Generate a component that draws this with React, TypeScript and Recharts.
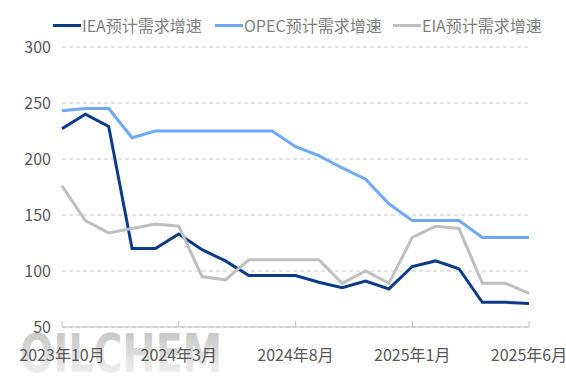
import React from "react";
import { LineChart, Line, XAxis, YAxis, CartesianGrid } from "recharts";

const months = [
  "2023年10月", "2023年11月", "2023年12月", "2024年1月", "2024年2月", "2024年3月",
  "2024年4月", "2024年5月", "2024年6月", "2024年7月", "2024年8月", "2024年9月",
  "2024年10月", "2024年11月", "2024年12月", "2025年1月", "2025年2月", "2025年3月",
  "2025年4月", "2025年5月", "2025年6月",
];
const ieaValues = [227, 240, 229, 120, 120, 133, 119, 109, 96, 96, 96, 90, 85, 91, 84, 104, 109, 102, 72, 72, 71];
const opecValues = [243, 245, 245, 219, 225, 225, 225, 225, 225, 225, 211, 203, 192, 182, 160, 145, 145, 145, 130, 130, 130];
const eiaValues = [176, 145, 134, 138, 142, 140, 95, 92, 110, 110, 110, 110, 89, 100, 89, 130, 140, 138, 89, 89, 80];
const yTicks = [50, 100, 150, 200, 250, 300];

const seriesNames = ["IEA预计需求增速", "OPEC预计需求增速", "EIA预计需求增速"];
const seriesColors = ["#0B3B8A", "#6EA8F7", "#BFBFBF"];

const data = months.map((m, i) => ({
  month: m,
  iea: ieaValues[i],
  opec: opecValues[i],
  eia: eiaValues[i],
}));

const FONT = '"Noto Sans CJK SC", "Noto Sans", sans-serif';

const LegendBlock = () => (
  <div style={{ position: "absolute", left: 0, top: 10, width: 566, height: 30 }}>
    {seriesNames.map((n, i) => {
      const lefts = [53, 215, 393];
      return (
        <div
          key={n}
          style={{
            position: "absolute",
            left: lefts[i],
            top: 0,
            display: "flex",
            alignItems: "center",
            height: 30,
            fontFamily: FONT,
            fontSize: 16,
            color: "#7F7F7F",
            whiteSpace: "nowrap",
          }}
        >
          <span style={{ display: "inline-block", width: 28, height: 3, background: seriesColors[i], marginRight: 1 }} />
          <span>{n}</span>
        </div>
      );
    })}
  </div>
);

const XTick = (props: any) => {
  const { x, payload } = props;
  return (
    <g>
      <line x1={x} x2={x} y1={327} y2={321} stroke="#BFBFBF" strokeWidth={1} />
      <text x={x} y={354} textAnchor="middle" dominantBaseline="central" fill="#595959" fontSize={16} fontFamily={FONT}>
        {payload.value}
      </text>
    </g>
  );
};

export default function App() {
  return (
    <div style={{ position: "absolute", left: 0, top: 0, width: 566, height: 378, background: "#fff" }}>
      <svg width={566} height={378} style={{ position: "absolute", left: 0, top: 0 }}>
        <defs>
          <linearGradient id="wm" x1="0" y1="0" x2="0" y2="1">
            <stop offset="0%" stopColor="#BDBDBD" />
            <stop offset="100%" stopColor="#FAFAFA" />
          </linearGradient>
        </defs>
        <text x={20} y={372} fontFamily='"DejaVu Sans", sans-serif' fontWeight="bold" fontSize={54} fill="url(#wm)" textLength={202} lengthAdjust="spacingAndGlyphs">
          OILCHEM
        </text>
      </svg>
      <div style={{ position: "absolute", left: 0, top: 0 }}>
        <LineChart width={566} height={378} data={data} margin={{ top: 47, right: 37, bottom: 21, left: 12 }}>
          <CartesianGrid vertical={false} stroke="#C8C8C8" strokeDasharray="4 3" />
          <XAxis
            dataKey="month"
            interval={4}
            axisLine={{ stroke: "#BFBFBF" }}
            tickLine={false}
            tick={<XTick />}
            height={30}
          />
          <YAxis
            domain={[50, 300]}
            ticks={yTicks}
            interval={0}
            axisLine={false}
            tickLine={false}
            width={50}
            tickMargin={5}
            tick={{ fill: "#595959", fontSize: 16, fontFamily: FONT }}
          />
          <Line type="linear" dataKey="iea" name={seriesNames[0]} stroke={seriesColors[0]} strokeWidth={3} dot={false} isAnimationActive={false} />
          <Line type="linear" dataKey="opec" name={seriesNames[1]} stroke={seriesColors[1]} strokeWidth={3} dot={false} isAnimationActive={false} />
          <Line type="linear" dataKey="eia" name={seriesNames[2]} stroke={seriesColors[2]} strokeWidth={3} dot={false} isAnimationActive={false} />
        </LineChart>
      </div>
      <LegendBlock />
    </div>
  );
}
